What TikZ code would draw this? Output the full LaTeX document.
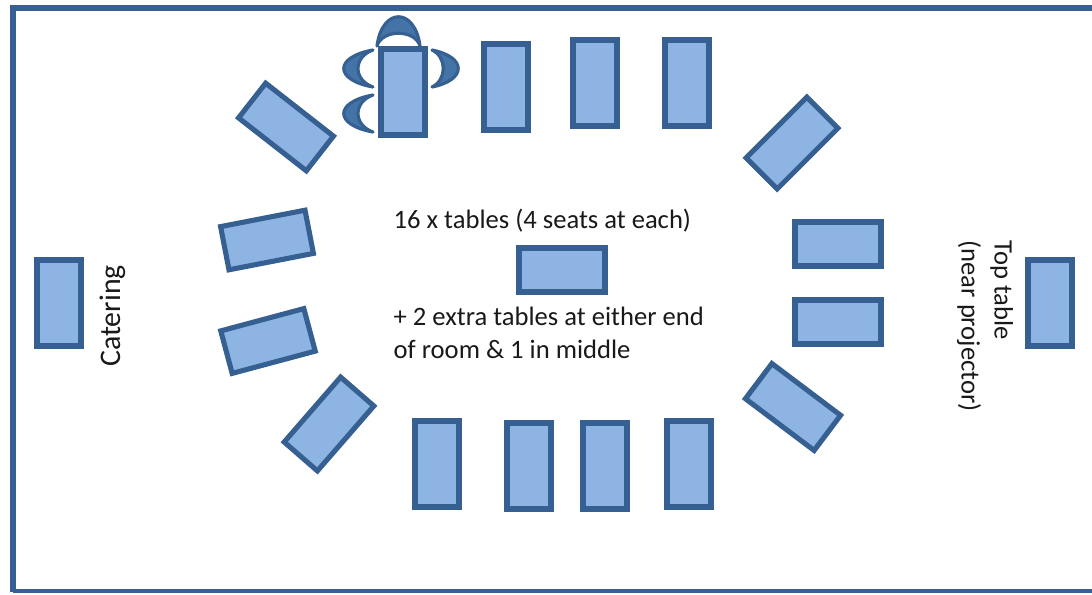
\documentclass[tikz,border=0pt]{standalone}
\usepackage{fontspec}
\setmainfont{Carlito}
\usepackage{tikz}
\definecolor{tableline}{HTML}{376092}
\definecolor{tablefill}{HTML}{8EB4E3}
\definecolor{seatfill}{HTML}{4473A8}
\tikzstyle{tbl} = [draw=tableline, fill=tablefill, line width=1.45pt, rectangle, inner sep=0, minimum width=0.86cm, minimum height=0.44cm]
\tikzstyle{seat} = [draw=tableline, fill=seatfill, line width=0.9pt, line join=round]
\tikzstyle{label} = [inner sep=0, align=left, font=\fontsize{7.57}{9.4}\selectfont, text=black!90]

\begin{document}
\begin{tikzpicture}
        % Bounding box
        \useasboundingbox (0,0) rectangle (10.92,5.94);

        % Room
        \draw[tableline, line width=1.5pt] (10.92,5.86) -- (0.13,5.86) -- (0.13,0.02);
        \draw[tableline, line width=1.1pt] (0.13,0.03) -- (10.92,0.03);

        % Seats
        \draw[seat] (3.77,5.48) .. controls (3.82,5.87) and (4.15,5.87) .. (4.20,5.48) .. controls (4.15,5.65) and (3.82,5.65) .. cycle;
        \draw[seat] (3.73,5.44) .. controls (3.34,5.37) and (3.34,5.14) .. (3.73,5.07) .. controls (3.53,5.14) and (3.53,5.37) .. cycle;
        \draw[seat] (3.73,4.99) .. controls (3.34,4.92) and (3.34,4.69) .. (3.73,4.62) .. controls (3.53,4.69) and (3.53,4.92) .. cycle;
        \draw[seat] (4.32,5.44) .. controls (4.67,5.37) and (4.67,5.14) .. (4.32,5.07) .. controls (4.47,5.14) and (4.47,5.37) .. cycle;

        % Tables
        \node[tbl, rotate=90] (t1) at (4.03,5.02) {};
        \node[tbl, rotate=90] (t2) at (5.06,5.07) {};
        \node[tbl, rotate=90] (t3) at (5.95,5.11) {};
        \node[tbl, rotate=90] (t4) at (6.87,5.11) {};
        \node[tbl, rotate=45] (t5) at (7.92,4.51) {};
        \node[tbl] (t6) at (8.38,3.50) {};
        \node[tbl] (t7) at (8.38,2.72) {};
        \node[tbl, rotate=-37] (t8) at (7.93,1.87) {};
        \node[tbl, rotate=90] (t9) at (6.89,1.30) {};
        \node[tbl, rotate=90] (t10) at (6.05,1.28) {};
        \node[tbl, rotate=90] (t11) at (5.29,1.28) {};
        \node[tbl, rotate=90] (t12) at (4.37,1.30) {};
        \node[tbl, rotate=49] (t13) at (3.29,1.70) {};
        \node[tbl, rotate=15] (t14) at (2.68,2.53) {};
        \node[tbl, rotate=11] (t15) at (2.67,3.54) {};
        \node[tbl, rotate=-38] (t16) at (2.86,4.67) {};

        % Extra tables
        \node[tbl] (middle) at (5.62,3.24) {};
        \node[tbl, rotate=90] (catering) at (0.59,2.91) {};
        \node[tbl, rotate=90] (top) at (10.50,2.91) {};

        % Labels
        \node[label, anchor=west] (count) at (3.93,3.73) {16 x tables (4 seats at each)};
        \node[label, anchor=north west] (extra) at (3.93,2.88) {+ 2 extra tables at either end\\of room \& 1 in middle};
        \node[label, rotate=90, font=\fontsize{8.5}{9.4}\selectfont] (cateringtext) at (1.13,2.78) {Catering};
        \node[label, rotate=-90, anchor=west] (toptext) at (9.85,3.54) {Top table\\(near projector)};

    \end{tikzpicture}
\end{document}
